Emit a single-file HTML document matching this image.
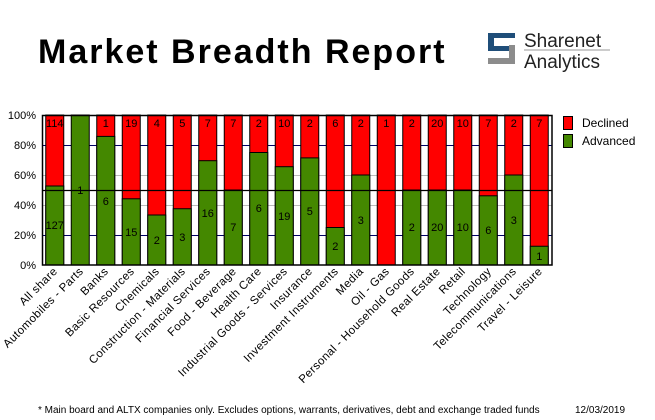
<!DOCTYPE html>
<html><head><meta charset="utf-8"><style>
html,body{margin:0;padding:0;background:#fff;width:655px;height:420px;overflow:hidden}
svg text{font-family:"Liberation Sans",sans-serif}
</style></head><body>
<svg width="655" height="420" xmlns="http://www.w3.org/2000/svg">
<text x="38" y="63" font-size="34" font-weight="bold" letter-spacing="2" fill="#000">Market Breadth Report</text>
<g>
<path d="M488 33 h27 v5 h-21 v8 h21 v17 h-27 v-5 h21 v-7 h-21 z" fill="#1f4e79"/>
<path d="M497 45 h12 v13 h-21 v6 h27 v-19 z" fill="#8c8c8c"/>
<text x="524" y="47" font-size="19" fill="#222">Sharenet</text>
<line x1="524" y1="50" x2="610" y2="50" stroke="#999" stroke-width="1"/>
<text x="524" y="68" font-size="19" fill="#222">Analytics</text>
</g>
<g stroke-width="1">
<line x1="42" y1="145.5" x2="552" y2="145.5" stroke="#000066"/>
<line x1="42" y1="175.5" x2="552" y2="175.5" stroke="#bbb"/>
<line x1="42" y1="205.5" x2="552" y2="205.5" stroke="#bbb"/>
<line x1="42" y1="235.5" x2="552" y2="235.5" stroke="#000066"/>
</g>
<g font-size="11" fill="#000" text-anchor="end">
<text x="36" y="119">100%</text><text x="36" y="149">80%</text><text x="36" y="179">60%</text>
<text x="36" y="209">40%</text><text x="36" y="239">20%</text><text x="36" y="269">0%</text>
</g>
<g stroke="#000" stroke-width="1">
<rect x="45.75" y="115" width="18" height="150" fill="#ff0000"/><rect x="45.75" y="186" width="18" height="79" fill="#448800"/>
<rect x="71.25" y="115" width="18" height="150" fill="#448800"/>
<rect x="96.75" y="115" width="18" height="150" fill="#ff0000"/><rect x="96.75" y="136.4" width="18" height="128.6" fill="#448800"/>
<rect x="122.25" y="115" width="18" height="150" fill="#ff0000"/><rect x="122.25" y="198.8" width="18" height="66.2" fill="#448800"/>
<rect x="147.75" y="115" width="18" height="150" fill="#ff0000"/><rect x="147.75" y="215" width="18" height="50" fill="#448800"/>
<rect x="173.25" y="115" width="18" height="150" fill="#ff0000"/><rect x="173.25" y="208.75" width="18" height="56.25" fill="#448800"/>
<rect x="198.75" y="115" width="18" height="150" fill="#ff0000"/><rect x="198.75" y="160.7" width="18" height="104.3" fill="#448800"/>
<rect x="224.25" y="115" width="18" height="150" fill="#ff0000"/><rect x="224.25" y="190" width="18" height="75" fill="#448800"/>
<rect x="249.75" y="115" width="18" height="150" fill="#ff0000"/><rect x="249.75" y="152.5" width="18" height="112.5" fill="#448800"/>
<rect x="275.25" y="115" width="18" height="150" fill="#ff0000"/><rect x="275.25" y="166.7" width="18" height="98.3" fill="#448800"/>
<rect x="300.75" y="115" width="18" height="150" fill="#ff0000"/><rect x="300.75" y="157.9" width="18" height="107.1" fill="#448800"/>
<rect x="326.25" y="115" width="18" height="150" fill="#ff0000"/><rect x="326.25" y="227.5" width="18" height="37.5" fill="#448800"/>
<rect x="351.75" y="115" width="18" height="150" fill="#ff0000"/><rect x="351.75" y="175" width="18" height="90" fill="#448800"/>
<rect x="377.25" y="115" width="18" height="150" fill="#ff0000"/>
<rect x="402.75" y="115" width="18" height="150" fill="#ff0000"/><rect x="402.75" y="190" width="18" height="75" fill="#448800"/>
<rect x="428.25" y="115" width="18" height="150" fill="#ff0000"/><rect x="428.25" y="190" width="18" height="75" fill="#448800"/>
<rect x="453.75" y="115" width="18" height="150" fill="#ff0000"/><rect x="453.75" y="190" width="18" height="75" fill="#448800"/>
<rect x="479.25" y="115" width="18" height="150" fill="#ff0000"/><rect x="479.25" y="195.8" width="18" height="69.2" fill="#448800"/>
<rect x="504.75" y="115" width="18" height="150" fill="#ff0000"/><rect x="504.75" y="175" width="18" height="90" fill="#448800"/>
<rect x="530.25" y="115" width="18" height="150" fill="#ff0000"/><rect x="530.25" y="246.25" width="18" height="18.75" fill="#448800"/>
</g>
<line x1="42" y1="190.5" x2="552" y2="190.5" stroke="#000" stroke-width="1.2"/>
<rect x="42.5" y="115.5" width="509.5" height="149.5" fill="none" stroke="#000" stroke-width="1.5"/>
<g font-size="11" fill="#000" text-anchor="middle">
<text x="54.75" y="127">114</text><text x="105.75" y="127">1</text><text x="131.25" y="127">19</text><text x="156.75" y="127">4</text><text x="182.25" y="127">5</text><text x="207.75" y="127">7</text><text x="233.25" y="127">7</text><text x="258.75" y="127">2</text><text x="284.25" y="127">10</text><text x="309.75" y="127">2</text><text x="335.25" y="127">6</text><text x="360.75" y="127">2</text><text x="386.25" y="127">1</text><text x="411.75" y="127">2</text><text x="437.25" y="127">20</text><text x="462.75" y="127">10</text><text x="488.25" y="127">7</text><text x="513.75" y="127">2</text><text x="539.25" y="127">7</text>
<text x="54.75" y="229">127</text><text x="80.25" y="194">1</text><text x="105.75" y="205">6</text><text x="131.25" y="236">15</text><text x="156.75" y="244">2</text><text x="182.25" y="241">3</text><text x="207.75" y="217">16</text><text x="233.25" y="231">7</text><text x="258.75" y="212">6</text><text x="284.25" y="220">19</text><text x="309.75" y="215">5</text><text x="335.25" y="250">2</text><text x="360.75" y="224">3</text><text x="411.75" y="231">2</text><text x="437.25" y="231">20</text><text x="462.75" y="231">10</text><text x="488.25" y="234">6</text><text x="513.75" y="224">3</text><text x="539.25" y="260">1</text>
</g>
<g font-size="11.5" letter-spacing="0.4" fill="#000" text-anchor="end">
<text transform="translate(58,272) rotate(-45)">All share</text>
<text transform="translate(84,272) rotate(-45)">Automobiles - Parts</text>
<text transform="translate(109,272) rotate(-45)">Banks</text>
<text transform="translate(135,272) rotate(-45)">Basic Resources</text>
<text transform="translate(160,272) rotate(-45)">Chemicals</text>
<text transform="translate(186,272) rotate(-45)">Construction - Materials</text>
<text transform="translate(211,272) rotate(-45)">Financial Services</text>
<text transform="translate(237,272) rotate(-45)">Food - Beverage</text>
<text transform="translate(262,272) rotate(-45)">Health Care</text>
<text transform="translate(288,272) rotate(-45)">Industrial Goods - Services</text>
<text transform="translate(313,272) rotate(-45)">Insurance</text>
<text transform="translate(339,272) rotate(-45)">Investment Instruments</text>
<text transform="translate(364,272) rotate(-45)">Media</text>
<text transform="translate(390,272) rotate(-45)">Oil - Gas</text>
<text transform="translate(415,272) rotate(-45)">Personal - Household Goods</text>
<text transform="translate(441,272) rotate(-45)">Real Estate</text>
<text transform="translate(466,272) rotate(-45)">Retail</text>
<text transform="translate(492,272) rotate(-45)">Technology</text>
<text transform="translate(517,272) rotate(-45)">Telecommunications</text>
<text transform="translate(543,272) rotate(-45)">Travel - Leisure</text>
</g>
<rect x="563.5" y="116.5" width="9" height="13" fill="#ff0000" stroke="#000"/>
<rect x="563.5" y="134.5" width="9" height="13" fill="#448800" stroke="#000"/>
<text x="582" y="127" font-size="12">Declined</text>
<text x="582" y="145" font-size="12">Advanced</text>
<text x="38" y="413" font-size="10">* Main board and ALTX companies only. Excludes options, warrants, derivatives, debt and exchange traded funds</text>
<text x="575" y="413" font-size="10">12/03/2019</text>
</svg>
</body></html>
